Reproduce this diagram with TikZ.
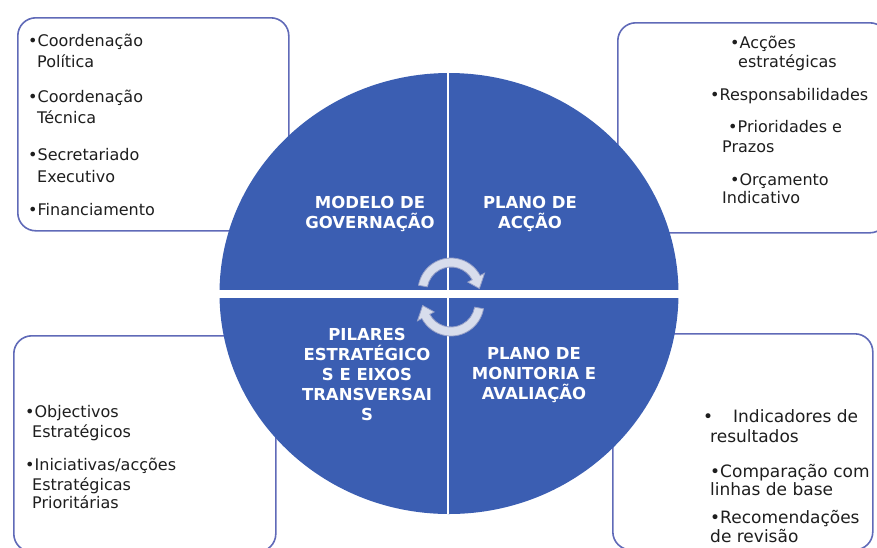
\documentclass[tikz,border=0pt]{standalone}
\usepackage{fontspec}
\setmainfont{DejaVu Sans}
\usetikzlibrary{shapes.geometric,calc}
\definecolor{circblue}{RGB}{59,94,178}
\definecolor{boxline}{RGB}{96,106,184}
\definecolor{arrowfill}{RGB}{216,221,236}
\definecolor{arrowline}{RGB}{150,160,200}
\definecolor{txt}{RGB}{30,30,30}
\begin{document}
\begin{tikzpicture}[x=1pt,y=-1pt,
  infobox/.style={draw=boxline, line width=1.6pt, fill=white, rounded corners=18pt, inner sep=0, anchor=north west},
  quad/.style={text=white, font=\bfseries\fontsize{16.5}{20}\selectfont, align=center, inner sep=0},
  bt/.style={anchor=base west, inner sep=0, text=txt, font=\fontsize{16}{20}\selectfont},
  btb/.style={bt, font=\fontsize{17}{20}\selectfont},
  cyclearrow/.style={fill=arrowfill, draw=arrowline, line width=0.8pt}]
\useasboundingbox (0,0) rectangle (877,547);
% boxes
\node[infobox, minimum width=271pt, minimum height=213pt] (tlbox) at (17,17) {};
\node[infobox, minimum width=270pt, minimum height=210pt] (trbox) at (617,22) {};
\node[infobox, minimum width=262pt, minimum height=216pt] (blbox) at (13,335) {};
\node[infobox, minimum width=260pt, minimum height=216pt] (brbox) at (612,333) {};
% wheel
\node[ellipse, fill=circblue, minimum width=459pt, minimum height=441pt, inner sep=0] (wheel) at (449,293.5) {};
\draw[white, line width=2pt] ([xshift=-1pt]wheel.north) -- ([xshift=-1pt]wheel.south);
\fill[white] (214,289.5) rectangle (685,298);
% cycle arrows
\coordinate (ca) at (451,291);
\coordinate (cb) at (451,303);
\path[cyclearrow] ($(ca)+(190:33)$) arc[start angle=190, end angle=332, radius=33]
  -- ($(ca)+(332:38)$) -- ($(ca)+(355:28.5)$) -- ($(ca)+(332:19)$) -- ($(ca)+(332:24)$)
  arc[start angle=332, end angle=190, radius=24] -- cycle;
\path[cyclearrow] ($(cb)+(10:33)$) arc[start angle=10, end angle=152, radius=33]
  -- ($(cb)+(152:38)$) -- ($(cb)+(175:28.5)$) -- ($(cb)+(152:19)$) -- ($(cb)+(152:24)$)
  arc[start angle=152, end angle=10, radius=24] -- cycle;
% quadrant labels
\node[quad] (gov) at (370,213.5) {MODELO DE\\GOVERNAÇÃO};
\node[quad] (acc) at (530,213.5) {PLANO DE\\ACÇÃO};
\node[quad] (pil) at (367,374) {PILARES\\ESTRATÉGICO\\S E EIXOS\\TRANSVERSAI\\S};
\node[quad] (mon) at (534,375) {PLANO DE\\MONITORIA E\\AVALIAÇÃO};
% top-left box text
\node[bt] (tl1) at (28,46) {•Coordenação};
\node[bt] (tl2) at (37,67) {Política};
\node[bt] (tl3) at (28,102) {•Coordenação};
\node[bt] (tl4) at (37,123) {Técnica};
\node[bt] (tl5) at (28,160) {•Secretariado};
\node[bt] (tl6) at (37,182) {Executivo};
\node[bt] (tl7) at (28,215) {•Financiamento};
% top-right box text
\node[bt] (tr1) at (730,48) {•Acções};
\node[bt] (tr2) at (738,67) {estratégicas};
\node[bt] (tr3) at (710,100) {•Responsabilidades};
\node[bt] (tr4) at (728,132) {•Prioridades e};
\node[bt] (tr5) at (722,152) {Prazos};
\node[bt] (tr6) at (730,185) {•Orçamento};
\node[bt] (tr7) at (722,203) {Indicativo};
% bottom-left box text
\node[bt] (bl1) at (25,417) {•Objectivos};
\node[bt] (bl2) at (32,437) {Estratégicos};
\node[bt] (bl3) at (25,470) {•Iniciativas/acções};
\node[bt] (bl4) at (32,490) {Estratégicas};
\node[bt] (bl5) at (32,508) {Prioritárias};
% bottom-right box text
\node[btb] (br1) at (703,422) {\makebox[30pt][l]{•}Indicadores de};
\node[btb] (br2) at (710,442) {resultados};
\node[btb] (br3) at (710,477) {•Comparação com};
\node[btb] (br4) at (710,495) {linhas de base};
\node[btb] (br5) at (710,523) {•Recomendações};
\node[btb] (br6) at (710,542) {de revisão};
\end{tikzpicture}
\end{document}
